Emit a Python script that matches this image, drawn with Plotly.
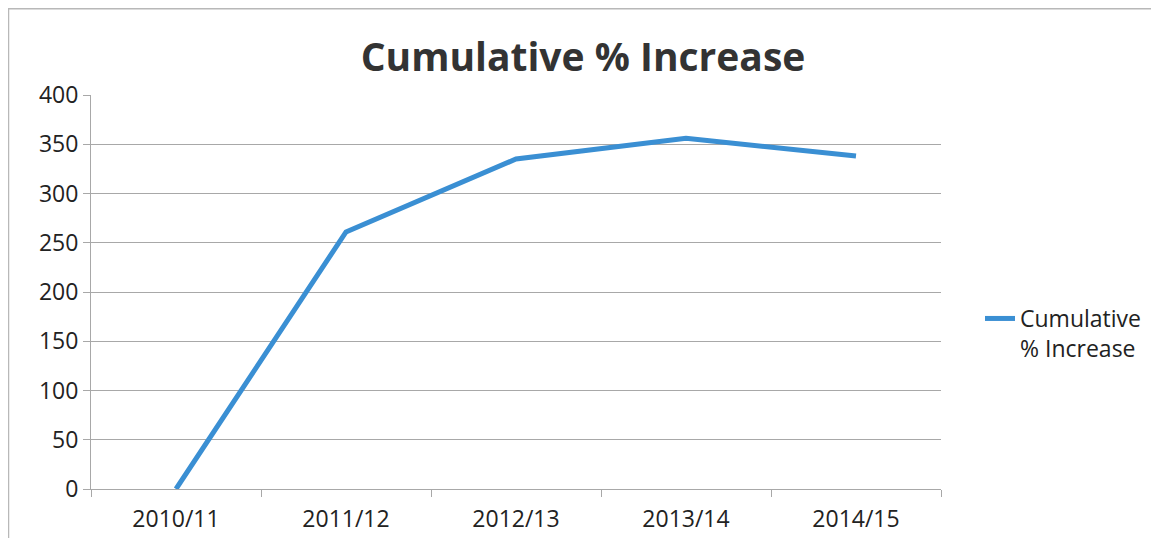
import plotly.graph_objects as go

categories = ["2010/11", "2011/12", "2012/13", "2013/14", "2014/15"]
values = [0, 261, 335, 356, 338]
y_ticks = [0, 50, 100, 150, 200, 250, 300, 350, 400]
series_name = "Cumulative<br>% Increase"
title_text = "Cumulative % Increase"

O = 8  # page body margin offset
W, H = 1159 - O, 538 - O
L = 91 - O
T = 95 - O
pw = 941 - 91
ph = 489 - 95
R = W - L - pw
B = H - T - ph


def px_x(page_x):
    return (page_x - O - L) / pw


def px_y(page_y):
    return (H - B - (page_y - O)) / ph


fig = go.Figure()
fig.add_trace(go.Scatter(
    x=categories, y=values, mode="lines", name=series_name,
    line=dict(color="#3A8FD3", width=5), showlegend=True,
))

fig.update_layout(
    width=W, height=H,
    margin=dict(l=L, r=R, t=T, b=B, autoexpand=False),
    paper_bgcolor="white", plot_bgcolor="white",
    font=dict(family="Open Sans, Liberation Sans, sans-serif", color="#222222", size=23),
    title=dict(text="<b>" + title_text + "</b>", x=(583 - O) / W, xanchor="center",
               y=1 - (57 - O) / H, yanchor="middle",
               font=dict(size=39, color="#333333")),
    showlegend=True,
    legend=dict(x=px_x(980), xanchor="left", y=px_y(297), yanchor="top",
                valign="top",
                font=dict(size=23, color="#222222"), bgcolor="rgba(0,0,0,0)"),
    xaxis=dict(type="category", categoryorder="array", categoryarray=categories,
               range=[-0.5, 4.5], showgrid=False, showline=True, linecolor="#A8A8A8",
               linewidth=1, ticks="outside", tickson="boundaries", ticklen=7,
               tickcolor="#A8A8A8", tickfont=dict(size=23), zeroline=False,
               ticklabelstandoff=9, automargin=False),
    yaxis=dict(range=[0, 400], tickvals=y_ticks, showgrid=True, gridcolor="#A8A8A8",
               gridwidth=1, showline=True, linecolor="#A8A8A8", ticks="outside",
               ticklen=7, tickcolor="#A8A8A8", tickfont=dict(size=23), zeroline=False,
               automargin=False),
)

fig.add_shape(type="rect", xref="paper", yref="paper",
              x0=px_x(8.5), x1=px_x(1155),
              y0=px_y(560), y1=px_y(8.8),
              line=dict(color="#B8B8B8", width=1.5), layer="below")

fig.write_html("out.html")
